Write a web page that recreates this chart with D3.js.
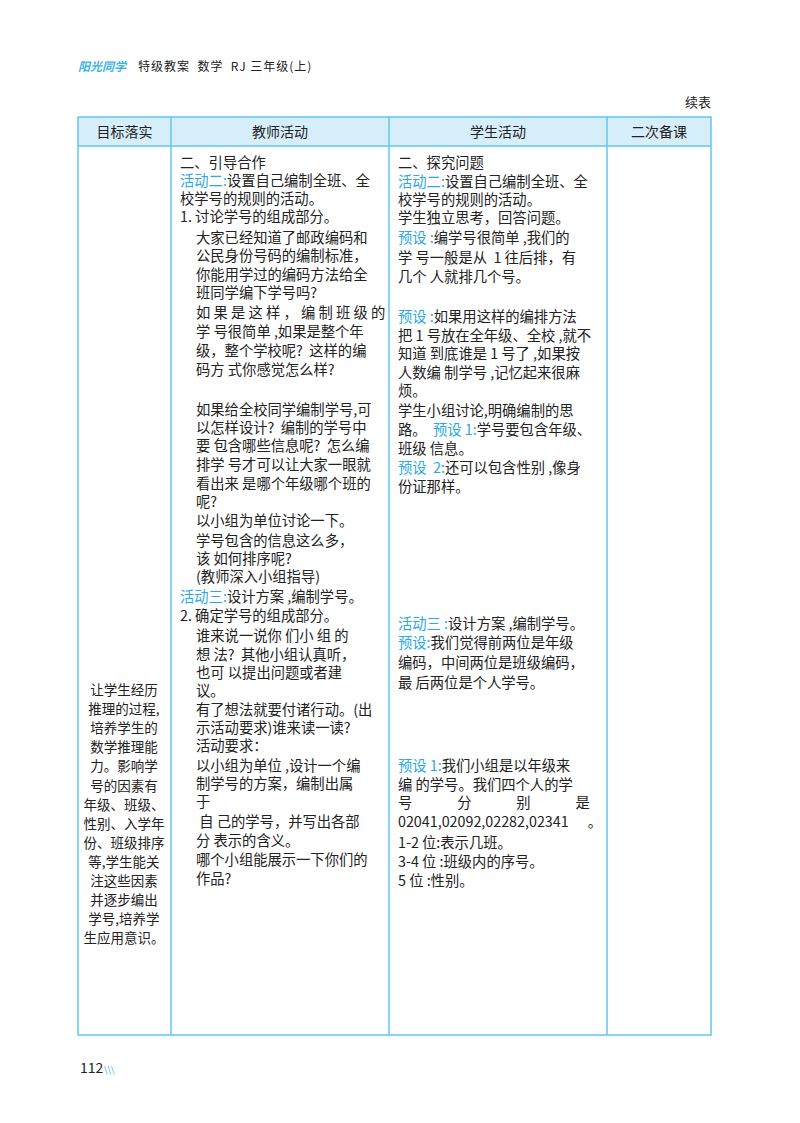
<!DOCTYPE html>
<html><head><meta charset="utf-8">
<script src="https://cdn.jsdelivr.net/npm/d3@7"></script>
<style>body{margin:0;background:#fff}text{font-family:"Noto Sans CJK SC",sans-serif;white-space:pre}</style>
</head><body><svg id="page"></svg>
<script>
// column headers and divider positions
const headers = ["目标落实", "教师活动", "学生活动", "二次备课"]
const colEdges = [78, 171, 389, 607, 711]

// [y, blue prefix, text, x]
const teacherLines = [
  [163, "", "二、引导合作", 180],
  [181, "活动二:", "设置自己编制全班、全", 180],
  [199, "", "校学号的规则的活动。", 180],
  [217, "", "1. 讨论学号的组成部分。", 180],
  [238, "", "大家已经知道了邮政编码和", 196],
  [256, "", "公民身份号码的编制标准，", 196],
  [275, "", "你能用学过的编码方法给全", 196],
  [293, "", "班同学编下学号吗?", 196],
  [313, "", "如 果 是 这 样 ， 编 制 班 级 的", 196],
  [332, "", "学 号很简单 ,如果是整个年", 196],
  [351, "", "级，整个学校呢?  这样的编", 196],
  [370, "", "码方 式你感觉怎么样?", 196],
  [410, "", "如果给全校同学编制学号,可", 196],
  [428, "", "以怎样设计?  编制的学号中", 196],
  [446, "", "要 包含哪些信息呢?  怎么编", 196],
  [465, "", "排学 号才可以让大家一眼就", 196],
  [484, "", "看出来 是哪个年级哪个班的", 196],
  [502, "", "呢?", 196],
  [521, "", "以小组为单位讨论一下。", 196],
  [541, "", "学号包含的信息这么多，", 196],
  [559, "", "该 如何排序呢?", 196],
  [577, "", "(教师深入小组指导)", 196],
  [597, "活动三:", "设计方案 ,编制学号。", 180],
  [616, "", "2. 确定学号的组成部分。", 180],
  [636, "", "谁来说一说你 们小 组 的", 196],
  [655, "", "想 法?  其他小组认真听，", 196],
  [673, "", "也可 以提出问题或者建", 196],
  [691, "", "议。", 196],
  [710, "", "有了想法就要付诸行动。(出", 196],
  [728, "", "示活动要求)谁来读一读?", 196],
  [746, "", "活动要求：", 196],
  [766, "", "以小组为单位 ,设计一个编", 196],
  [784, "", "制学号的方案，编制出属", 196],
  [802, "", "于", 196],
  [822, "", " 自 己的学号，并写出各部", 196],
  [841, "", "分 表示的含义。", 196],
  [860, "", "哪个小组能展示一下你们的", 196],
  [879, "", "作品?", 196]
]

const studentLines = [
  [163, "", "二、探究问题"],
  [182, "活动二:", "设置自己编制全班、全"],
  [200, "", "校学号的规则的活动。"],
  [218, "", "学生独立思考，回答问题。"],
  [238, "预设 :", "编学号很简单 ,我们的"],
  [258, "", "学 号一般是从  1 往后排，有"],
  [277, "", "几个 人就排几个号。"],
  [317, "预设 :", "如果用这样的编排方法"],
  [336, "", "把 1 号放在全年级、全校 ,就不"],
  [354, "", "知道 到底谁是 1 号了 ,如果按"],
  [373, "", "人数编 制学号 ,记忆起来很麻"],
  [391, "", "烦。"],
  [411, "", "学生小组讨论,明确编制的思"],
  [430, "", "路。  #预设 1:#学号要包含年级、"],
  [449, "", "班级 信息。"],
  [468, "预设  2:", "还可以包含性别 ,像身"],
  [487, "", "份证那样。"],
  [624, "活动三 :", "设计方案 ,编制学号。"],
  [643, "预设:", "我们觉得前两位是年级"],
  [663, "", "编码，中间两位是班级编码，"],
  [683, "", "最 后两位是个人学号。"],
  [766, "预设 1:", "我们小组是以年级来"],
  [785, "", "编 的学号。我们四个人的学"],
  [803, "", "号              分              别              是"],
  [822, "", "02041,02092,02282,02341      。"],
  [843, "", "1-2 位:表示几班。"],
  [862, "", "3-4 位 :班级内的序号。"],
  [881, "", "5 位 :性别。"]
]

const goalLines = ["让学生经历", "推理的过程,", "培养学生的", "数学推理能", "力。影响学",
  "号的因素有", "年级、班级、", "性别、入学年", "份、班级排序", "等,学生能关",
  "注这些因素", "并逐步编出", "学号,培养学", "生应用意识。"]
const goalTop = 690, goalStep = 19.1

const blue = "#2aa9e8", line = "#62c6ee"

const svg = d3.select("svg#page").attr("width", 800).attr("height", 1123)

// running header
svg.append("text").attr("x", 78).attr("y", 71).attr("font-size", 12)
   .attr("font-style", "italic").attr("font-weight", "bold").attr("fill", "#3bb4ea").text("阳光同学")
svg.append("text").attr("x", 138).attr("y", 71).attr("font-size", 12).attr("fill", "#222")
   .attr("letter-spacing", 1).text("特级教案  数学  RJ 三年级(上)")
svg.append("text").attr("x", 711).attr("y", 107).attr("font-size", 13).attr("text-anchor", "end")
   .attr("fill", "#222").text("续表")

// table frame
svg.append("rect").attr("x", 78).attr("y", 117).attr("width", 633).attr("height", 29)
   .attr("fill", "#d6eefa")
svg.append("rect").attr("x", 78).attr("y", 117).attr("width", 633).attr("height", 918)
   .attr("fill", "none").attr("stroke", line).attr("stroke-width", 1.5)
svg.append("line").attr("x1", 78).attr("x2", 711).attr("y1", 146).attr("y2", 146)
   .attr("stroke", line).attr("stroke-width", 1.5)
svg.selectAll(".div").data(colEdges.slice(1, -1)).join("line")
   .attr("x1", d => d).attr("x2", d => d).attr("y1", 117).attr("y2", 1035)
   .attr("stroke", line).attr("stroke-width", 1.5)

svg.selectAll(".hdr").data(headers).join("text")
   .attr("x", (d, i) => (colEdges[i] + colEdges[i + 1]) / 2).attr("y", 137)
   .attr("text-anchor", "middle").attr("font-size", 14).attr("fill", "#222").text(d => d)

function drawLines(rows, defX) {
  rows.forEach(r => {
    const t = svg.append("text").attr("x", r[3] || defX).attr("y", r[0] + 5)
                 .attr("font-size", 14.3).attr("fill", "#222")
    if (r[1]) t.append("tspan").attr("fill", blue).text(r[1])
    r[2].split("#").forEach((s, i) => {
      t.append("tspan").attr("fill", i % 2 ? blue : "#222").text(s)
    })
  })
}
drawLines(teacherLines, 180)
drawLines(studentLines, 398)

svg.selectAll(".goal").data(goalLines).join("text")
   .attr("x", 124).attr("y", (d, i) => goalTop + i * goalStep + 5)
   .attr("text-anchor", "middle").attr("font-size", 13.5).attr("fill", "#222").text(d => d)

// page number
svg.append("text").attr("x", 80).attr("y", 1073).attr("font-size", 14).attr("fill", "#222").text("112")
svg.append("text").attr("x", 104).attr("y", 1073).attr("font-size", 9).attr("fill", blue).text("\\\\\\")
</script></body></html>
